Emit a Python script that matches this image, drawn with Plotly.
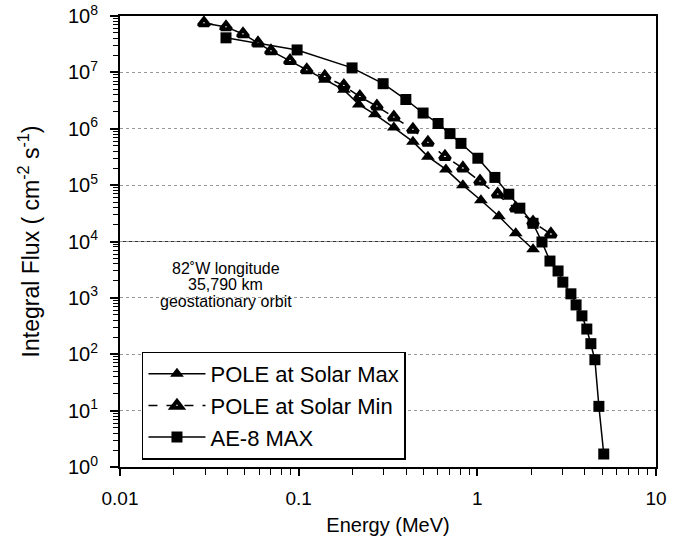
import plotly.graph_objects as go

# POLE at Solar Max (filled triangles)
max_energy = [0.0295, 0.0392, 0.0488, 0.0592, 0.070, 0.0894, 0.111, 0.140, 0.179, 0.217,
              0.267, 0.341, 0.436, 0.529, 0.667, 0.830, 1.047, 1.32, 1.64, 2.05]
max_flux = [7.5e7, 6.4e7, 4.8e7, 3.3e7, 2.4e7, 1.6e7, 1.1e7, 7.4e6, 4.9e6, 2.7e6,
            1.8e6, 1.05e6, 5.9e5, 3.2e5, 1.9e5, 1.0e5, 5.4e4, 2.8e4, 1.4e4, 7.3e3]

# POLE at Solar Min (open triangles)
min_energy = [0.0295, 0.0392, 0.0488, 0.0592, 0.070, 0.0894, 0.111, 0.140, 0.179, 0.22,
              0.274, 0.341, 0.436, 0.529, 0.659, 0.830, 1.035, 1.30, 1.64, 2.05, 2.58]
min_flux = [7.5e7, 6.4e7, 4.8e7, 3.3e7, 2.4e7, 1.6e7, 1.1e7, 8.4e6, 5.8e6, 3.7e6,
            2.5e6, 1.6e6, 9.7e5, 5.7e5, 3.2e5, 2.0e5, 1.17e5, 6.9e4, 3.9e4, 2.2e4, 1.35e4]

# AE-8 MAX (filled squares)
ae8_energy = [0.0392, 0.098, 0.199, 0.297, 0.398, 0.497, 0.603, 0.703, 0.81, 1.007,
              1.254, 1.50, 1.73, 2.05, 2.30, 2.55, 2.83, 3.01, 3.34, 3.57,
              3.85, 4.10, 4.32, 4.55, 4.79, 5.1]
ae8_flux = [4.1e7, 2.5e7, 1.2e7, 6.3e6, 3.3e6, 1.9e6, 1.24e6, 8.2e5, 5.5e5, 3.0e5,
            1.37e5, 6.9e4, 3.9e4, 2.1e4, 9.8e3, 4.5e3, 3.0e3, 1.9e3, 1.18e3, 7.5e2,
            4.8e2, 2.8e2, 1.54e2, 80, 11.9, 1.7]

y_tickvals = [1e0, 1e1, 1e2, 1e3, 1e4, 1e5, 1e6, 1e7, 1e8]
y_ticktext = ["10<sup>%d</sup>" % i for i in range(9)]
x_tickvals = [0.01, 0.1, 1, 10]
x_ticktext = ["0.01", "0.1", "1", "10"]
x_minor = [m * 10.0 ** e for e in (-2, -1, 0) for m in range(2, 10)]
y_minor = [m * 10.0 ** e for e in range(0, 8) for m in range(2, 10)]

note_lines = ["82˚W longitude", "35,790 km", "geostationary orbit"]

FONT = "Liberation Sans, Arial, sans-serif"

fig = go.Figure()
fig.add_trace(go.Scatter(
    x=max_energy, y=max_flux, mode="lines+markers", name="POLE at Solar Max",
    line=dict(color="black", width=1.5),
    marker=dict(symbol="triangle-up", size=12, color="black"),
))
fig.add_trace(go.Scatter(
    x=min_energy, y=min_flux, mode="lines+markers", name="POLE at Solar Min",
    line=dict(color="black", width=1.5, dash="dash"),
    marker=dict(symbol="triangle-up", size=9, color="white", line=dict(color="black", width=4)),
))
fig.add_trace(go.Scatter(
    x=ae8_energy, y=ae8_flux, mode="lines+markers", name="AE-8 MAX",
    line=dict(color="black", width=1.5),
    marker=dict(symbol="square", size=11, color="black"),
))

fig.add_shape(type="line", xref="paper", x0=0, x1=1, yref="y", y0=1e4, y1=1e4,
              line=dict(color="#333333", width=1.2), layer="below")

for i, line in enumerate(note_lines):
    fig.add_annotation(
        text=line, xref="paper", yref="paper", x=0.197, y=0.441 - i * 0.037,
        xanchor="center", yanchor="middle", showarrow=False,
        font=dict(family=FONT, size=16, color="black"),
    )

fig.update_layout(
    width=687, height=538,
    margin=dict(l=120, r=31, t=16, b=71),
    paper_bgcolor="white", plot_bgcolor="white",
    font=dict(family=FONT, color="black"),
    showlegend=True,
    legend=dict(
        x=0.041, y=0.256, xanchor="left", yanchor="top",
        bordercolor="black", borderwidth=1.5, bgcolor="white",
        font=dict(family=FONT, size=22, color="black"),
        itemwidth=57,
    ),
    xaxis=dict(
        type="log", range=[-2, 1], automargin=False,
        tickvals=x_tickvals, ticktext=x_ticktext,
        ticks="outside", ticklen=7, tickwidth=1.5, tickcolor="black",
        minor=dict(tickvals=x_minor, ticks="outside", ticklen=6, tickwidth=1.2,
                   tickcolor="black", showgrid=False),
        showgrid=False, zeroline=False,
        showline=True, linecolor="black", linewidth=2, mirror=True,
        tickfont=dict(family=FONT, size=19),
        ticklabelstandoff=6,
        title=dict(text="Energy (MeV)", font=dict(family=FONT, size=20), standoff=10),
    ),
    yaxis=dict(
        type="log", range=[0, 8], automargin=False,
        tickvals=y_tickvals, ticktext=y_ticktext,
        ticks="outside", ticklen=8, tickwidth=1.5, tickcolor="black",
        minor=dict(tickvals=y_minor, ticks="outside", ticklen=5, tickwidth=1.2,
                   tickcolor="black", showgrid=False),
        showgrid=True, gridcolor="#999999", gridwidth=1, griddash="dot",
        zeroline=False,
        showline=True, linecolor="black", linewidth=2, mirror=True,
        tickfont=dict(family=FONT, size=20),
        ticklabelstandoff=8,
        title=dict(text="Integral Flux ( cm<sup>-2</sup> s<sup>-1</sup>)",
                   font=dict(family=FONT, size=23), standoff=22),
    ),
)

fig.write_html("out.html", config={"displayModeBar": False},
               post_script="document.body.style.margin='0';")
